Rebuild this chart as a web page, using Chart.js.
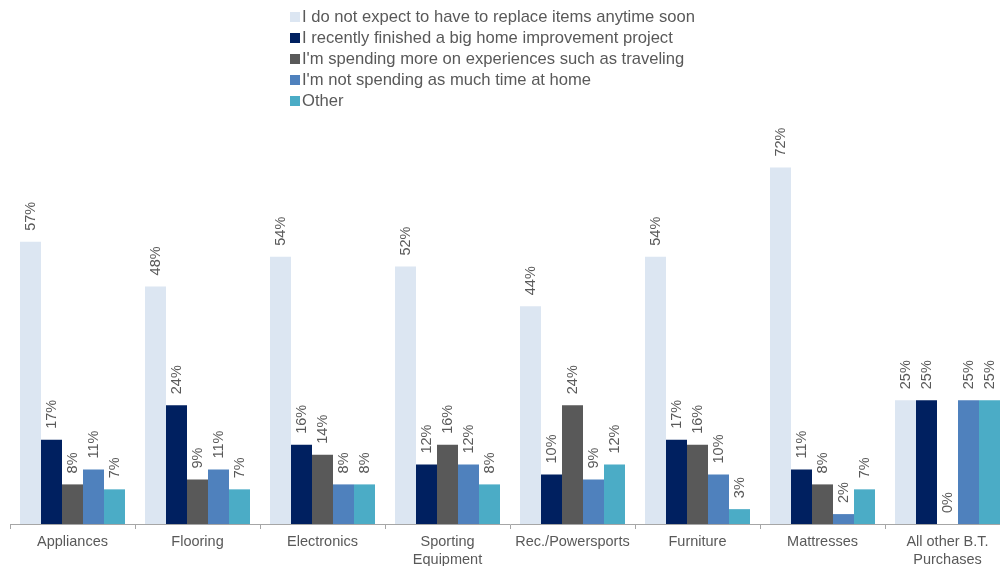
<!DOCTYPE html>
<html><head><meta charset="utf-8">
<script src="https://cdn.jsdelivr.net/npm/chart.js@4/dist/chart.umd.min.js"></script>
<style>
html,body{margin:0;padding:0;background:#fff;overflow:hidden;width:1000px;height:566px;}
#wrap{position:absolute;left:0;top:0;width:1010px;height:566px;}
#legend{position:absolute;left:290px;top:6px;font-family:"Liberation Sans",Arial,sans-serif;font-size:16.6px;color:#595959;}
#legend div{height:21px;line-height:21px;white-space:nowrap;}
#legend span.sw{display:inline-block;width:10px;height:10px;margin-right:2px;vertical-align:0px;}
</style></head>
<body>
<div id="wrap"><canvas id="c" width="1010" height="566"></canvas></div>
<div id="legend"></div>
<script>
const categories = [["Appliances"],["Flooring"],["Electronics"],["Sporting","Equipment"],["Rec./Powersports"],["Furniture"],["Mattresses"],["All other B.T.","Purchases"]];
const seriesNames = ["I do not expect to have to replace items anytime soon","I recently finished a big home improvement project","I'm spending more on experiences such as traveling","I'm not spending as much time at home","Other"];
const noReplace = [57,48,54,52,44,54,72,25];
const homeProject = [17,24,16,12,10,17,11,25];
const experiences = [8,9,14,16,24,16,8,0];
const lessHome = [11,11,8,12,9,10,2,25];
const other = [7,7,8,8,12,3,7,25];
const colors = ["#DCE6F2","#002060","#595959","#4F81BD","#4BACC6"];
const allSeries = [noReplace,homeProject,experiences,lessHome,other];

const leg = document.getElementById('legend');
seriesNames.forEach((n,i)=>{
  const d=document.createElement('div');
  d.innerHTML='<span class="sw" style="background:'+colors[i]+'"></span>';
  d.appendChild(document.createTextNode(n));
  leg.appendChild(d);
});

const labelPlugin = {
  id:'vlabels',
  afterDatasetsDraw(chart){
    const ctx=chart.ctx;
    ctx.save();
    ctx.font='14.5px "Liberation Sans", Arial, sans-serif';
    ctx.fillStyle='#595959';
    ctx.textAlign='left';
    ctx.textBaseline='middle';
    chart.data.datasets.forEach((ds,di)=>{
      const meta=chart.getDatasetMeta(di);
      meta.data.forEach((el,i)=>{
        ctx.save();
        ctx.translate(el.x+0.5, el.y-11);
        ctx.rotate(-Math.PI/2);
        ctx.fillText(ds.data[i]+'%',0,0);
        ctx.restore();
      });
    });
    ctx.restore();
  }
};

new Chart(document.getElementById('c'),{
  type:'bar',
  data:{
    labels:categories,
    datasets:allSeries.map((d,i)=>({label:seriesNames[i],data:d,backgroundColor:colors[i],borderWidth:0,categoryPercentage:0.84,barPercentage:1.0}))
  },
  options:{
    responsive:false,animation:false,
    layout:{padding:{left:10,right:0,top:128,bottom:0}},
    plugins:{legend:{display:false},tooltip:{enabled:false}},
    scales:{
      y:{display:false,min:0,max:80},
      x:{
        offset:true,
        grid:{display:true,offset:true,drawOnChartArea:false,tickLength:5,color:'#A6A6A6'},
        border:{display:true,color:'#A6A6A6',width:1},
        ticks:{color:'#595959',font:{family:'"Liberation Sans", Arial, sans-serif',size:14.5,lineHeight:1.22},padding:4,maxRotation:0,autoSkip:false},
        afterFit(s){s.height=42;}
      }
    }
  },
  plugins:[labelPlugin]
});
</script>
</body></html>
